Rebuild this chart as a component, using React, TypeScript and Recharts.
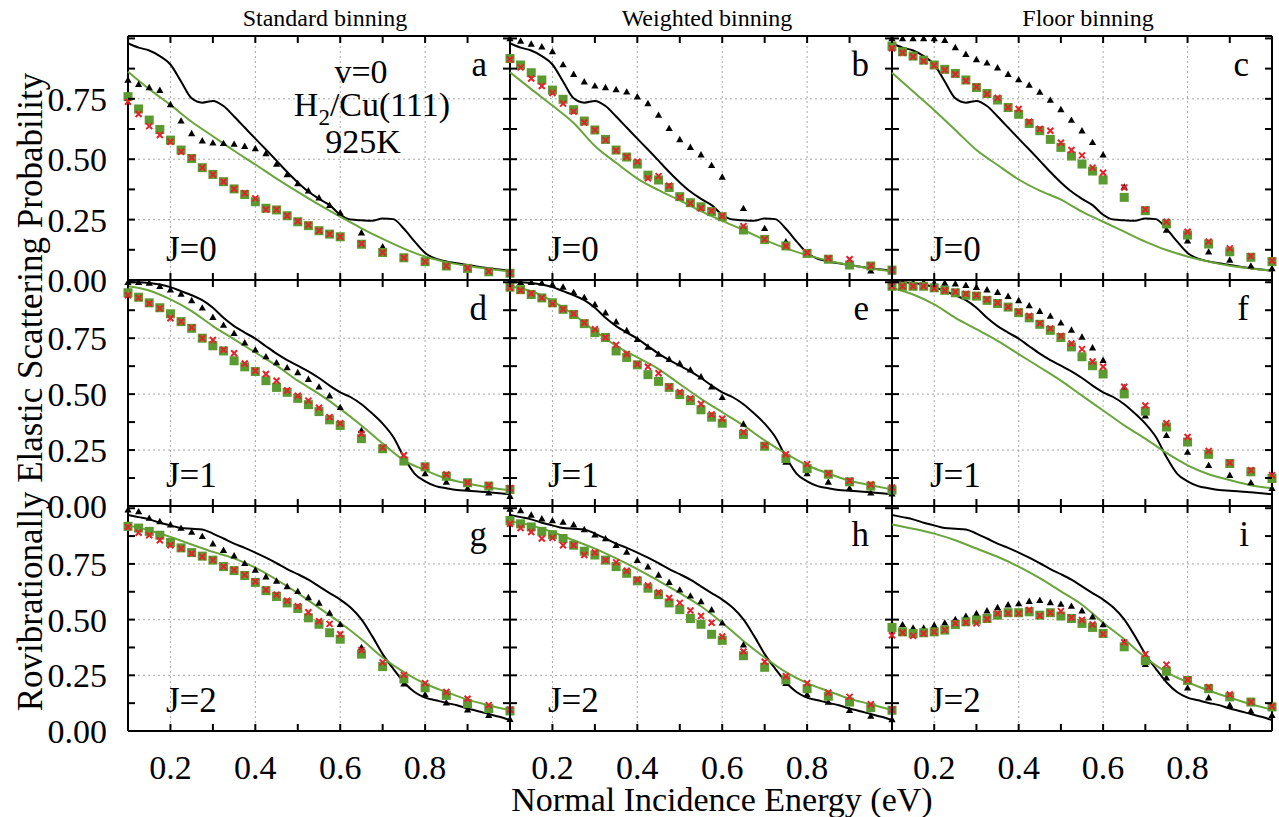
import {
  CartesianGrid,
  ComposedChart,
  Line,
  ReferenceLine,
  Scatter,
  XAxis,
  YAxis,
} from 'recharts';

const SERIF = '"Liberation Serif", "Times New Roman", serif';

// energies (eV) of the binned points, of the black curve and of the green curve
const markerEnergy = [
  0.1, 0.125, 0.15, 0.175, 0.2, 0.225, 0.25, 0.275, 0.3, 0.325, 0.35, 0.375, 0.4, 0.425, 0.45,
  0.475, 0.5, 0.525, 0.55, 0.575, 0.6, 0.65, 0.7, 0.75, 0.8, 0.85, 0.9, 0.95, 1.0,
];
const curveEnergy = [
  0.1, 0.125, 0.15, 0.175, 0.2, 0.225, 0.25, 0.275, 0.3, 0.325, 0.35, 0.375, 0.4, 0.425, 0.45,
  0.475, 0.5, 0.525, 0.55, 0.575, 0.6, 0.625, 0.65, 0.675, 0.7, 0.725, 0.75, 0.775, 0.8, 0.825,
  0.85, 0.875, 0.9, 0.925, 0.95, 0.975, 1.0,
];
const fitEnergy = [
  0.1, 0.15, 0.2, 0.25, 0.3, 0.35, 0.4, 0.45, 0.5, 0.55, 0.6, 0.65, 0.7, 0.75, 0.8, 0.85, 0.9,
  0.95, 1.0,
];

// black curves, one per J (same in every column)
const refJ0 = [
  0.98, 0.962, 0.95, 0.927, 0.892, 0.822, 0.752, 0.734, 0.741, 0.72, 0.677, 0.631, 0.585, 0.54,
  0.494, 0.447, 0.404, 0.366, 0.336, 0.31, 0.27, 0.25, 0.247, 0.245, 0.255, 0.252, 0.212, 0.16,
  0.112, 0.088, 0.077, 0.069, 0.062, 0.055, 0.049, 0.043, 0.038,
];
const refJ1 = [
  1.0, 1.0, 0.997, 0.99, 0.978, 0.96, 0.942, 0.92, 0.886, 0.841, 0.804, 0.775, 0.748, 0.714, 0.681,
  0.652, 0.627, 0.602, 0.572, 0.538, 0.508, 0.486, 0.455, 0.414, 0.368, 0.308, 0.219, 0.145, 0.11,
  0.089, 0.079, 0.071, 0.068, 0.065, 0.061, 0.057, 0.053,
];
const refJ2 = [
  0.97, 0.96, 0.95, 0.935, 0.923, 0.911, 0.908, 0.905, 0.886, 0.864, 0.841, 0.822, 0.801, 0.778,
  0.753, 0.727, 0.704, 0.679, 0.649, 0.619, 0.59, 0.553, 0.501, 0.427, 0.345, 0.279, 0.219, 0.175,
  0.15, 0.138, 0.126, 0.116, 0.101, 0.089, 0.076, 0.064, 0.049,
];

// green curves, per panel
const fitA = [0.862, 0.79, 0.725, 0.655, 0.595, 0.535, 0.478, 0.42, 0.365, 0.312, 0.262, 0.214, 0.17, 0.13, 0.097, 0.074, 0.058, 0.046, 0.036];
const fitB = [0.86, 0.79, 0.722, 0.65, 0.555, 0.485, 0.42, 0.372, 0.33, 0.285, 0.245, 0.207, 0.166, 0.131, 0.103, 0.08, 0.062, 0.048, 0.036];
const fitC = [0.858, 0.78, 0.703, 0.621, 0.538, 0.476, 0.416, 0.37, 0.333, 0.283, 0.241, 0.2, 0.159, 0.124, 0.097, 0.076, 0.059, 0.048, 0.039];
const fitD = [0.982, 0.963, 0.923, 0.871, 0.804, 0.745, 0.686, 0.627, 0.56, 0.501, 0.434, 0.36, 0.279, 0.204, 0.16, 0.123, 0.101, 0.083, 0.071];
const fitE = [0.982, 0.96, 0.916, 0.856, 0.782, 0.716, 0.664, 0.612, 0.545, 0.479, 0.419, 0.36, 0.293, 0.234, 0.182, 0.145, 0.113, 0.093, 0.074];
const fitF = [0.975, 0.945, 0.901, 0.841, 0.79, 0.738, 0.679, 0.62, 0.56, 0.493, 0.427, 0.36, 0.301, 0.237, 0.182, 0.142, 0.116, 0.093, 0.079];
const fitG = [0.923, 0.901, 0.871, 0.837, 0.804, 0.775, 0.733, 0.679, 0.619, 0.553, 0.486, 0.412, 0.33, 0.264, 0.212, 0.175, 0.141, 0.116, 0.093];
const fitH = [0.941, 0.923, 0.893, 0.856, 0.819, 0.775, 0.727, 0.674, 0.619, 0.56, 0.486, 0.404, 0.33, 0.264, 0.215, 0.179, 0.145, 0.12, 0.093];
const fitI = [0.927, 0.908, 0.886, 0.856, 0.819, 0.782, 0.738, 0.686, 0.627, 0.567, 0.486, 0.412, 0.33, 0.264, 0.219, 0.182, 0.15, 0.12, 0.096];

// black triangles
const triA = [0.828, 0.81, 0.797, 0.786, 0.727, 0.659, 0.607, 0.577, 0.568, 0.566, 0.563, 0.554, 0.545, 0.524, 0.48, 0.437, 0.4, 0.37, 0.341, 0.31, 0.279, 0.196, 0.138, 0.092, 0.076, 0.058, 0.048, 0.035, 0.028];
const triB = [1.0, 0.99, 0.977, 0.966, 0.946, 0.892, 0.852, 0.821, 0.804, 0.797, 0.789, 0.779, 0.759, 0.731, 0.683, 0.628, 0.582, 0.55, 0.519, 0.475, 0.427, 0.297, 0.214, 0.159, 0.11, 0.09, 0.062, 0.039, 0.034];
const triC = [1.0, 1.0, 1.0, 1.0, 1.0, 0.993, 0.963, 0.935, 0.913, 0.899, 0.879, 0.852, 0.83, 0.807, 0.778, 0.745, 0.706, 0.662, 0.618, 0.57, 0.519, 0.386, 0.29, 0.207, 0.163, 0.117, 0.083, 0.059, 0.048];
const triD = [1.0, 1.0, 0.997, 0.982, 0.967, 0.948, 0.919, 0.886, 0.844, 0.809, 0.772, 0.73, 0.698, 0.668, 0.641, 0.619, 0.597, 0.567, 0.533, 0.493, 0.441, 0.338, 0.256, 0.204, 0.145, 0.108, 0.079, 0.059, 0.044];
const triE = [1.0, 1.0, 1.0, 0.997, 0.99, 0.979, 0.955, 0.933, 0.901, 0.864, 0.824, 0.785, 0.745, 0.711, 0.679, 0.656, 0.637, 0.609, 0.578, 0.533, 0.486, 0.367, 0.271, 0.197, 0.145, 0.108, 0.079, 0.059, 0.055];
const triF = [1.0, 1.0, 1.0, 1.0, 0.997, 0.997, 0.994, 0.987, 0.978, 0.967, 0.956, 0.938, 0.919, 0.896, 0.871, 0.849, 0.819, 0.787, 0.756, 0.708, 0.652, 0.53, 0.404, 0.316, 0.241, 0.182, 0.138, 0.105, 0.079];
const triG = [0.993, 0.985, 0.956, 0.941, 0.926, 0.911, 0.893, 0.874, 0.841, 0.812, 0.787, 0.753, 0.723, 0.693, 0.674, 0.649, 0.627, 0.6, 0.575, 0.53, 0.479, 0.375, 0.3, 0.212, 0.164, 0.127, 0.096, 0.071, 0.053];
const triH = [0.997, 0.99, 0.97, 0.953, 0.945, 0.938, 0.926, 0.905, 0.881, 0.864, 0.834, 0.804, 0.767, 0.738, 0.701, 0.668, 0.634, 0.607, 0.582, 0.545, 0.486, 0.387, 0.3, 0.215, 0.164, 0.13, 0.093, 0.068, 0.052];
const triI = [0.48, 0.478, 0.463, 0.463, 0.475, 0.486, 0.501, 0.516, 0.528, 0.54, 0.555, 0.567, 0.572, 0.583, 0.587, 0.577, 0.57, 0.561, 0.54, 0.513, 0.478, 0.397, 0.3, 0.239, 0.194, 0.15, 0.116, 0.09, 0.071];

// green squares
const sqA = [0.759, 0.708, 0.662, 0.623, 0.579, 0.538, 0.503, 0.465, 0.437, 0.407, 0.377, 0.354, 0.324, 0.297, 0.29, 0.266, 0.241, 0.225, 0.204, 0.19, 0.179, 0.148, 0.114, 0.092, 0.076, 0.058, 0.048, 0.034, 0.028];
const sqB = [0.917, 0.89, 0.858, 0.828, 0.786, 0.748, 0.705, 0.658, 0.621, 0.582, 0.538, 0.509, 0.48, 0.434, 0.414, 0.383, 0.345, 0.32, 0.303, 0.283, 0.262, 0.207, 0.168, 0.141, 0.11, 0.086, 0.062, 0.058, 0.041];
const sqC = [0.968, 0.945, 0.927, 0.91, 0.89, 0.872, 0.855, 0.828, 0.797, 0.772, 0.745, 0.714, 0.686, 0.648, 0.618, 0.582, 0.549, 0.513, 0.48, 0.451, 0.414, 0.342, 0.287, 0.232, 0.186, 0.149, 0.117, 0.094, 0.076];
const sqD = [0.953, 0.933, 0.908, 0.886, 0.859, 0.824, 0.794, 0.75, 0.716, 0.693, 0.649, 0.622, 0.601, 0.56, 0.53, 0.508, 0.481, 0.453, 0.422, 0.385, 0.36, 0.301, 0.256, 0.201, 0.175, 0.133, 0.104, 0.089, 0.074];
const sqE = [0.978, 0.967, 0.945, 0.93, 0.908, 0.879, 0.856, 0.815, 0.775, 0.753, 0.693, 0.664, 0.631, 0.587, 0.557, 0.53, 0.498, 0.471, 0.43, 0.397, 0.37, 0.32, 0.267, 0.212, 0.167, 0.142, 0.108, 0.089, 0.071];
const sqF = [0.982, 0.982, 0.982, 0.982, 0.975, 0.964, 0.953, 0.942, 0.938, 0.919, 0.905, 0.889, 0.864, 0.841, 0.812, 0.785, 0.753, 0.711, 0.667, 0.627, 0.59, 0.501, 0.424, 0.353, 0.286, 0.231, 0.19, 0.153, 0.123];
const sqG = [0.919, 0.911, 0.896, 0.879, 0.846, 0.822, 0.801, 0.785, 0.767, 0.738, 0.72, 0.698, 0.667, 0.63, 0.604, 0.575, 0.55, 0.508, 0.479, 0.441, 0.412, 0.345, 0.289, 0.234, 0.194, 0.16, 0.123, 0.101, 0.09];
const sqH = [0.945, 0.93, 0.916, 0.896, 0.881, 0.864, 0.834, 0.807, 0.79, 0.767, 0.738, 0.708, 0.674, 0.641, 0.612, 0.575, 0.545, 0.505, 0.479, 0.434, 0.407, 0.338, 0.286, 0.23, 0.19, 0.156, 0.13, 0.105, 0.093];
const sqI = [0.465, 0.445, 0.438, 0.441, 0.445, 0.453, 0.478, 0.49, 0.498, 0.505, 0.52, 0.531, 0.531, 0.535, 0.52, 0.531, 0.516, 0.505, 0.483, 0.465, 0.438, 0.378, 0.316, 0.268, 0.227, 0.19, 0.153, 0.13, 0.108];

// red crosses
const crossA = [0.738, 0.687, 0.637, 0.6, 0.572, 0.531, 0.506, 0.465, 0.437, 0.407, 0.377, 0.359, 0.338, 0.292, 0.292, 0.266, 0.243, 0.228, 0.204, 0.19, 0.179, 0.15, 0.114, 0.092, 0.076, 0.058, 0.05, 0.036, 0.028];
const crossB = [0.913, 0.88, 0.834, 0.803, 0.774, 0.73, 0.697, 0.652, 0.621, 0.579, 0.536, 0.51, 0.49, 0.421, 0.43, 0.39, 0.342, 0.317, 0.297, 0.286, 0.265, 0.223, 0.168, 0.141, 0.113, 0.09, 0.086, 0.059, 0.041];
const crossC = [0.959, 0.941, 0.924, 0.906, 0.888, 0.869, 0.852, 0.825, 0.8, 0.77, 0.754, 0.714, 0.708, 0.655, 0.625, 0.618, 0.568, 0.538, 0.516, 0.465, 0.444, 0.383, 0.292, 0.241, 0.2, 0.159, 0.131, 0.099, 0.08];
const crossD = [0.942, 0.93, 0.905, 0.883, 0.839, 0.824, 0.797, 0.75, 0.742, 0.698, 0.683, 0.637, 0.604, 0.59, 0.56, 0.516, 0.493, 0.471, 0.439, 0.397, 0.37, 0.323, 0.261, 0.227, 0.178, 0.141, 0.105, 0.093, 0.079];
const crossE = [0.975, 0.963, 0.95, 0.93, 0.904, 0.879, 0.859, 0.819, 0.79, 0.753, 0.72, 0.679, 0.634, 0.622, 0.593, 0.533, 0.508, 0.481, 0.456, 0.409, 0.39, 0.33, 0.271, 0.231, 0.187, 0.145, 0.113, 0.096, 0.083];
const crossF = [0.982, 0.982, 0.982, 0.982, 0.972, 0.963, 0.957, 0.948, 0.942, 0.923, 0.908, 0.889, 0.868, 0.849, 0.816, 0.794, 0.76, 0.726, 0.701, 0.646, 0.622, 0.533, 0.449, 0.37, 0.308, 0.246, 0.193, 0.16, 0.138];
const crossG = [0.916, 0.89, 0.879, 0.856, 0.834, 0.819, 0.797, 0.782, 0.767, 0.738, 0.723, 0.701, 0.671, 0.634, 0.612, 0.585, 0.56, 0.533, 0.493, 0.481, 0.434, 0.363, 0.308, 0.252, 0.215, 0.175, 0.145, 0.116, 0.096];
const crossH = [0.93, 0.911, 0.893, 0.864, 0.867, 0.834, 0.834, 0.79, 0.801, 0.767, 0.757, 0.719, 0.679, 0.653, 0.622, 0.597, 0.575, 0.541, 0.516, 0.486, 0.424, 0.357, 0.311, 0.246, 0.215, 0.172, 0.153, 0.12, 0.096];
const crossI = [0.43, 0.441, 0.427, 0.438, 0.445, 0.453, 0.483, 0.487, 0.483, 0.502, 0.528, 0.528, 0.528, 0.543, 0.517, 0.531, 0.538, 0.508, 0.498, 0.478, 0.435, 0.398, 0.345, 0.298, 0.23, 0.197, 0.164, 0.13, 0.111];

const columnTitles = ['Standard binning', 'Weighted binning', 'Floor binning'];
const rowLabels = ['J=0', 'J=1', 'J=2'];
const panelLetters = ['a', 'b', 'c', 'd', 'e', 'f', 'g', 'h', 'i'];

const xTickLabels = [0.2, 0.4, 0.6, 0.8];
const yTickLabels = [0, 0.25, 0.5, 0.75];
const xMinorTicks = [0.1, 0.2, 0.3, 0.4, 0.5, 0.6, 0.7, 0.8, 0.9, 1.0];
const yMinorTicks = [0, 0.125, 0.25, 0.375, 0.5, 0.625, 0.75, 0.875, 1.0];

const X_DOMAIN: [number, number] = [0.1, 1.0];
const Y_DOMAIN: [number, number] = [0, 1.01];

// plot frame edges in page pixels
const COLS = [[128, 510], [510, 892], [892, 1272]];
const ROWS = [[36, 280], [280, 506], [506, 731]];

const BLACK = '#000000';
const GREEN_FIT = '#6aa53c';
const GREEN_SQ = '#5a9a30';
const RED = '#e3232b';

const zip = (xs: number[], ys: number[]) => xs.map((x, i) => ({ x, y: ys[i] }));

const refs = [refJ0, refJ1, refJ2];
const panels = [
  { fit: fitA, tri: triA, sq: sqA, cross: crossA },
  { fit: fitB, tri: triB, sq: sqB, cross: crossB },
  { fit: fitC, tri: triC, sq: sqC, cross: crossC },
  { fit: fitD, tri: triD, sq: sqD, cross: crossD },
  { fit: fitE, tri: triE, sq: sqE, cross: crossE },
  { fit: fitF, tri: triF, sq: sqF, cross: crossF },
  { fit: fitG, tri: triG, sq: sqG, cross: crossG },
  { fit: fitH, tri: triH, sq: sqH, cross: crossH },
  { fit: fitI, tri: triI, sq: sqI, cross: crossI },
];

const Triangle = (props: any) => {
  const { cx, cy } = props;
  if (cx == null || cy == null) return null;
  return <path d={`M${cx},${cy - 3.6}L${cx + 3.6},${cy + 2.8}L${cx - 3.6},${cy + 2.8}Z`} fill={BLACK} />;
};

const Square = (props: any) => {
  const { cx, cy } = props;
  if (cx == null || cy == null) return null;
  return <rect x={cx - 4.5} y={cy - 4.5} width={9} height={9} fill={GREEN_SQ} />;
};

const Cross = (props: any) => {
  const { cx, cy } = props;
  if (cx == null || cy == null) return null;
  const s = 3;
  return (
    <path
      d={`M${cx - s},${cy - s}L${cx + s},${cy + s}M${cx - s},${cy + s}L${cx + s},${cy - s}`}
      stroke={RED}
      strokeWidth={2}
      fill="none"
    />
  );
};

const PAD = 22;
const labelFont = { fill: BLACK, fontSize: 34, fontFamily: SERIF };

function Panel({ idx }: { idx: number }) {
  const col = idx % 3;
  const row = Math.floor(idx / 3);
  const p = panels[idx];
  const [x0, x1] = COLS[col];
  const [y0, y1] = ROWS[row];
  const isLeft = col === 0;
  const isBottom = row === 2;
  const yAxisW = isLeft ? x0 : 0;
  const xAxisH = isBottom ? 60 : 0;
  const left = isLeft ? 0 : x0 - PAD;
  const top = y0 - PAD;
  const width = x1 + PAD - left;
  const height = y1 - top + (isBottom ? xAxisH : PAD);

  return (
    <div style={{ position: 'absolute', left, top }}>
      <ComposedChart
        width={width}
        height={height}
        margin={{ top: PAD, right: PAD, bottom: isBottom ? 0 : PAD, left: isLeft ? 0 : PAD }}
      >
        <CartesianGrid
          horizontalValues={[0.25, 0.5, 0.75]}
          verticalValues={xTickLabels}
          stroke="#a8a8a8"
          strokeDasharray="2 3"
        />
        <XAxis
          type="number"
          dataKey="x"
          domain={X_DOMAIN}
          ticks={xTickLabels}
          interval={0}
          hide={!isBottom}
          height={xAxisH}
          axisLine={false}
          tickLine={false}
          tickSize={0}
          tickMargin={24}
          tick={labelFont}
          tickFormatter={(v) => String(v)}
        />
        <YAxis
          type="number"
          dataKey="y"
          domain={Y_DOMAIN}
          ticks={yTickLabels}
          interval={0}
          hide={!isLeft}
          width={yAxisW}
          axisLine={false}
          tickLine={false}
          tickSize={0}
          tickMargin={21}
          tick={labelFont}
          tickFormatter={(v) => Number(v).toFixed(2)}
        />
        <ReferenceLine x={X_DOMAIN[0]} ifOverflow="visible" stroke={BLACK} strokeWidth={2} />
        <ReferenceLine x={X_DOMAIN[1]} ifOverflow="visible" stroke={BLACK} strokeWidth={2} />
        <ReferenceLine y={Y_DOMAIN[0]} ifOverflow="visible" stroke={BLACK} strokeWidth={2} />
        <ReferenceLine y={Y_DOMAIN[1]} ifOverflow="visible" stroke={BLACK} strokeWidth={2} />
        <Line
          data={zip(curveEnergy, refs[row])}
          dataKey="y"
          type="monotone"
          stroke={BLACK}
          strokeWidth={2}
          dot={false}
          activeDot={false}
          isAnimationActive={false}
        />
        <Line
          data={zip(fitEnergy, p.fit)}
          dataKey="y"
          type="monotone"
          stroke={GREEN_FIT}
          strokeWidth={2}
          dot={false}
          activeDot={false}
          isAnimationActive={false}
        />
        <Scatter name="tri" data={zip(markerEnergy, p.tri)} dataKey="y" shape={Triangle} isAnimationActive={false} />
        <Scatter name="sq" data={zip(markerEnergy, p.sq)} dataKey="y" shape={Square} isAnimationActive={false} />
        <Scatter name="cross" data={zip(markerEnergy, p.cross)} dataKey="y" shape={Cross} isAnimationActive={false} />
      </ComposedChart>
    </div>
  );
}

// inward tick marks on every frame side (axis decoration, same linear mapping as the charts)
function FrameTicks() {
  const len = 7;
  const out: any[] = [];
  COLS.forEach(([x0, x1], c) => {
    ROWS.forEach(([y0, y1], r) => {
      const px = (v: number) => x0 + ((v - X_DOMAIN[0]) / (X_DOMAIN[1] - X_DOMAIN[0])) * (x1 - x0);
      const py = (v: number) => y1 - ((v - Y_DOMAIN[0]) / (Y_DOMAIN[1] - Y_DOMAIN[0])) * (y1 - y0);
      xMinorTicks.forEach((t, k) => {
        const x = px(t);
        out.push(<path key={`b${c}-${r}-${k}`} d={`M${x},${y1}V${y1 - len}`} />);
        out.push(<path key={`t${c}-${r}-${k}`} d={`M${x},${y0}V${y0 + len}`} />);
      });
      yMinorTicks.forEach((t, k) => {
        const y = py(t);
        out.push(<path key={`l${c}-${r}-${k}`} d={`M${x0},${y}H${x0 + len}`} />);
        out.push(<path key={`r${c}-${r}-${k}`} d={`M${x1},${y}H${x1 - len}`} />);
      });
    });
  });
  return (
    <g stroke={BLACK} strokeWidth={2} fill="none">
      {out}
    </g>
  );
}

export default function App() {
  return (
    <div style={{ position: 'absolute', left: 0, top: 0, width: 1279, height: 817, background: '#fff' }}>
      {panels.map((_, i) => (
        <Panel key={i} idx={i} />
      ))}
      <svg
        width={1279}
        height={817}
        style={{ position: 'absolute', left: 0, top: 0, pointerEvents: 'none' }}
        fontFamily={SERIF}
      >
        <FrameTicks />
        <g fill={BLACK}>
          {columnTitles.map((t, c) => (
            <text key={t} x={(COLS[c][0] + COLS[c][1]) / 2 + 6} y={26} fontSize={24} textAnchor="middle">
              {t}
            </text>
          ))}
          {panelLetters.map((l, i) => (
            <text key={l} x={COLS[i % 3][1] - 23} y={ROWS[Math.floor(i / 3)][0] + 40} fontSize={35} textAnchor="end">
              {l}
            </text>
          ))}
          {panelLetters.map((l, i) => (
            <text key={`j${l}`} x={COLS[i % 3][0] + 38} y={ROWS[Math.floor(i / 3)][1] - 19} fontSize={35}>
              {rowLabels[Math.floor(i / 3)]}
            </text>
          ))}
          <text x={361} y={83} fontSize={34} textAnchor="middle">v=0</text>
          <text x={372} y={116} fontSize={34} textAnchor="middle">
            H<tspan fontSize={23} dy={9}>2</tspan>
            <tspan dy={-9}>/Cu(111)</tspan>
          </text>
          <text x={363} y={153} fontSize={34} textAnchor="middle">925K</text>
          <text x={722} y={811} fontSize={34} textAnchor="middle">Normal Incidence Energy (eV)</text>
          <text x={42} y={392} fontSize={35} textAnchor="middle" transform="rotate(-90 42 392)">
            Rovibrationally Elastic Scattering Probability
          </text>
        </g>
      </svg>
    </div>
  );
}
